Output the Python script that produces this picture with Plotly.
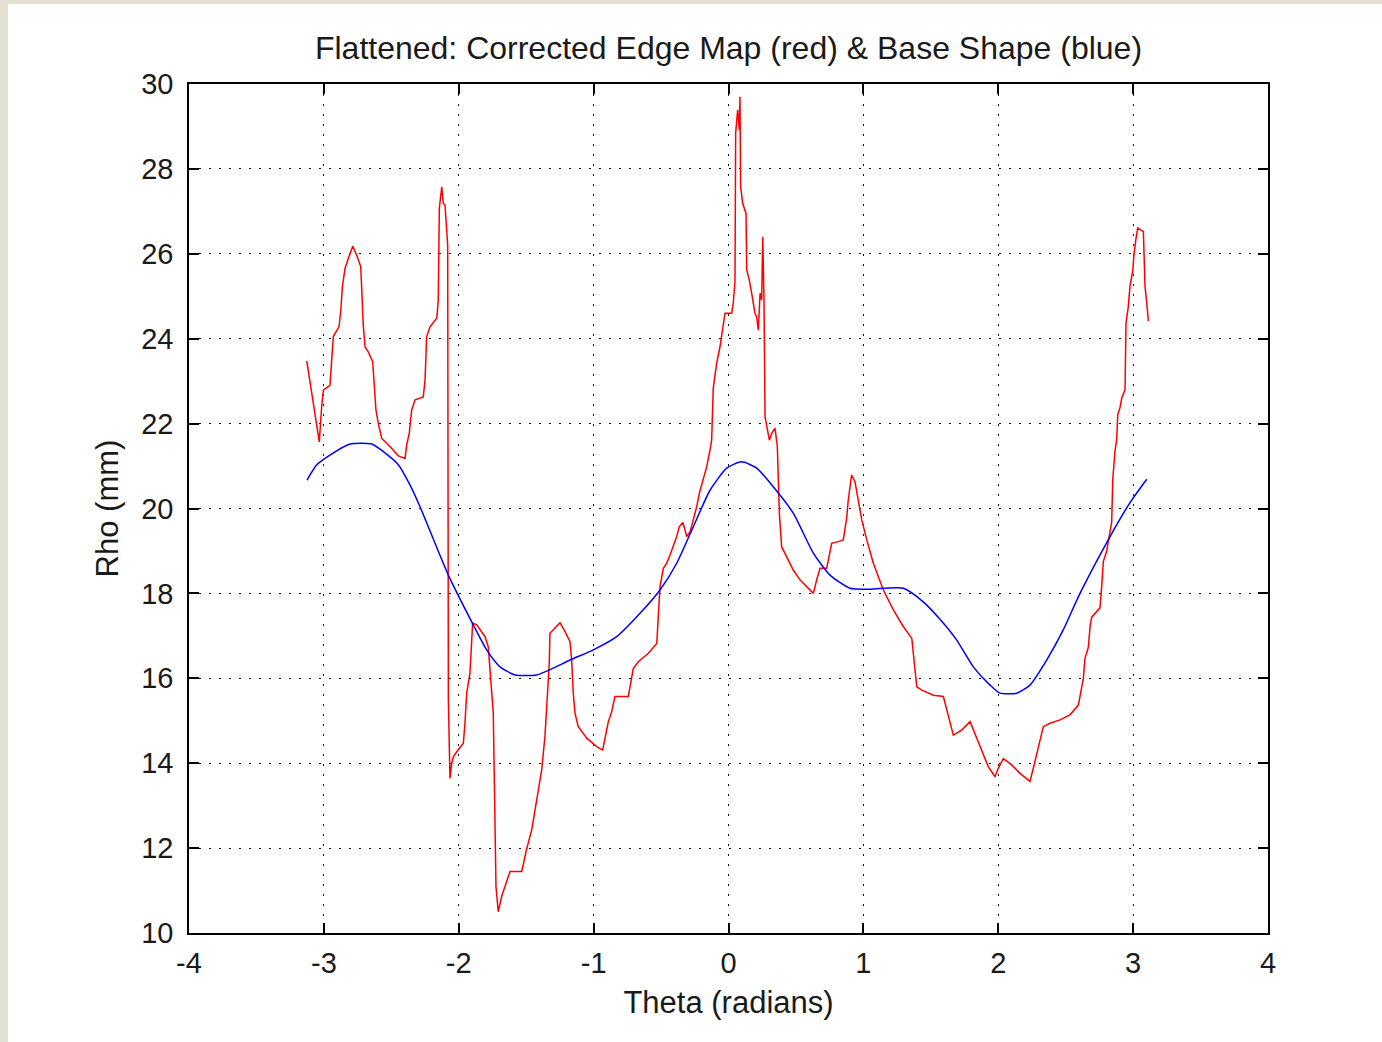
import plotly.graph_objects as go

# ---- data ----
red_theta = [-3.127, -3.034, -3.016, -3.004, -2.955, -2.938, -2.930, -2.888, -2.875, -2.863,
             -2.843, -2.819, -2.786, -2.757, -2.727, -2.720, -2.708, -2.695, -2.671, -2.638,
             -2.614, -2.596, -2.571, -2.510, -2.448, -2.398, -2.386, -2.367, -2.349, -2.324,
             -2.263, -2.250, -2.238, -2.213, -2.163, -2.152, -2.144, -2.126, -2.115, -2.102,
             -2.089, -2.082, -2.077, -2.065, -2.052, -2.040, -2.015, -1.966, -1.954, -1.941,
             -1.917, -1.904, -1.897, -1.867, -1.830, -1.805, -1.781, -1.768, -1.744, -1.724,
             -1.707, -1.682, -1.657, -1.620, -1.533, -1.498, -1.459, -1.435, -1.410, -1.385,
             -1.361, -1.348, -1.329, -1.324, -1.286, -1.249, -1.212, -1.175, -1.163, -1.151,
             -1.138, -1.114, -1.051, -0.977, -0.933, -0.916, -0.891, -0.866, -0.842, -0.743,
             -0.730, -0.706, -0.669, -0.594, -0.532, -0.520, -0.508, -0.483, -0.458, -0.434,
             -0.409, -0.384, -0.365, -0.339, -0.322, -0.310, -0.285, -0.261, -0.236, -0.216,
             -0.187, -0.162, -0.137, -0.125, -0.113, -0.100, -0.088, -0.063, -0.051, -0.026,
             0.024, 0.036, 0.048, 0.053, 0.068, 0.080, 0.085, 0.090, 0.105, 0.130,
             0.135, 0.154, 0.172, 0.196, 0.209, 0.221, 0.234, 0.246, 0.254, 0.263,
             0.271, 0.288, 0.303, 0.320, 0.345, 0.362, 0.377, 0.394, 0.443, 0.480,
             0.530, 0.580, 0.629, 0.654, 0.679, 0.728, 0.765, 0.814, 0.851, 0.876,
             0.888, 0.913, 0.938, 0.962, 0.988, 1.025, 1.074, 1.148, 1.222, 1.296,
             1.359, 1.396, 1.433, 1.519, 1.593, 1.667, 1.729, 1.791, 1.865, 1.926,
             1.976, 2.000, 2.038, 2.100, 2.161, 2.235, 2.260, 2.297, 2.334, 2.384,
             2.458, 2.532, 2.594, 2.631, 2.643, 2.668, 2.681, 2.693, 2.730, 2.754,
             2.767, 2.779, 2.804, 2.829, 2.841, 2.849, 2.866, 2.878, 2.886, 2.903,
             2.915, 2.940, 2.947, 2.964, 2.977, 2.997, 3.006, 3.021, 3.034, 3.076,
             3.088, 3.105, 3.113]
red_rho = [23.48, 21.57, 22.41, 22.79, 22.90, 23.73, 24.05, 24.28, 24.64, 25.22,
           25.66, 25.89, 26.18, 25.97, 25.70, 25.22, 24.32, 23.81, 23.69, 23.46,
           22.32, 22.00, 21.65, 21.46, 21.24, 21.18, 21.50, 21.77, 22.32, 22.56,
           22.63, 23.03, 24.05, 24.28, 24.48, 24.91, 27.07, 27.58, 27.19, 27.15,
           26.33, 26.20, 15.49, 13.64, 14.00, 14.15, 14.27, 14.47, 14.94, 15.65,
           16.12, 16.82, 17.30, 17.26, 17.10, 16.98, 16.74, 16.20, 15.18, 11.09,
           10.50, 10.86, 11.09, 11.45, 11.45, 11.96, 12.43, 12.90, 13.37, 13.84,
           14.63, 15.29, 16.35, 17.06, 17.18, 17.31, 17.10, 16.86, 16.43, 15.65,
           15.18, 14.86, 14.59, 14.39, 14.31, 14.55, 14.98, 15.21, 15.57, 15.57,
           15.80, 16.23, 16.39, 16.59, 16.82, 17.49, 18.16, 18.59, 18.71, 18.90,
           19.10, 19.34, 19.57, 19.67, 19.49, 19.34, 19.45, 19.73, 20.04, 20.36,
           20.67, 20.98, 21.38, 21.61, 22.83, 23.10, 23.42, 23.81, 24.05, 24.60,
           24.60, 24.87, 25.34, 28.84, 29.39, 28.92, 29.70, 27.58, 27.19, 26.95,
           25.62, 25.38, 25.07, 24.60, 24.52, 24.20, 25.07, 24.91, 26.40, 24.95,
           22.16, 21.85, 21.61, 21.77, 21.89, 21.46, 19.89, 19.10, 18.79, 18.55,
           18.32, 18.16, 18.00, 18.32, 18.59, 18.59, 19.18, 19.22, 19.26, 19.77,
           20.20, 20.79, 20.63, 20.20, 19.73, 19.26, 18.71, 18.08, 17.61, 17.22,
           16.94, 15.80, 15.72, 15.60, 15.57, 14.66, 14.78, 14.98, 14.39, 13.92,
           13.68, 13.88, 14.11, 13.96, 13.76, 13.57, 13.88, 14.39, 14.86, 14.94,
           15.02, 15.14, 15.37, 16.00, 16.47, 16.73, 17.23, 17.44, 17.57, 17.66,
           18.16, 18.75, 19.00, 19.51, 19.68, 20.69, 21.37, 21.62, 22.21, 22.38,
           22.59, 22.80, 24.36, 24.75, 25.25, 25.59, 25.97, 26.35, 26.61, 26.52,
           25.25, 24.70, 24.41]

blue_theta = [-3.125, -3.053, -2.955, -2.806, -2.645, -2.559, -2.448, -2.361, -2.287, -2.077,
              -1.904, -1.793, -1.694, -1.583, -1.422, -1.299, -1.175, -1.002, -0.829, -0.656,
              -0.508, -0.384, -0.261, -0.137, -0.013, 0.098, 0.209, 0.332, 0.480, 0.629,
              0.753, 0.901, 1.049, 1.296, 1.444, 1.568, 1.692, 1.815, 1.939, 2.013,
              2.137, 2.235, 2.359, 2.482, 2.606, 2.829, 2.977, 3.101]
blue_rho = [20.67, 21.03, 21.26, 21.52, 21.52, 21.34, 21.03, 20.55, 20.04, 18.43,
            17.33, 16.67, 16.27, 16.08, 16.08, 16.24, 16.43, 16.67, 16.98, 17.53,
            18.08, 18.71, 19.57, 20.43, 20.95, 21.10, 20.95, 20.51, 19.89, 18.95,
            18.43, 18.12, 18.10, 18.12, 17.80, 17.39, 16.90, 16.27, 15.84, 15.65,
            15.65, 15.84, 16.43, 17.14, 18.00, 19.34, 20.14, 20.69]

x_ticks = [-4, -3, -2, -1, 0, 1, 2, 3, 4]
y_ticks = [10, 12, 14, 16, 18, 20, 22, 24, 26, 28, 30]

title_text = "Flattened: Corrected Edge Map (red) & Base Shape (blue)"
x_title = "Theta (radians)"
y_title = "Rho (mm)"

FONT = "Liberation Sans, Arial, Helvetica, sans-serif"
TXT = "#1a1a1a"

fig = go.Figure()
fig.add_trace(go.Scatter(x=red_theta, y=red_rho, mode="lines",
                         line=dict(color="#ff0000", width=1.5), showlegend=False))
fig.add_trace(go.Scatter(x=blue_theta, y=blue_rho, mode="lines",
                         line=dict(color="#0000ff", width=1.5, shape="spline", smoothing=0.6),
                         showlegend=False))

W, H = 1382, 1042
L, R, T, B = 189, 114, 84, 109
pw, ph = W - L - R, H - T - B

axis_common = dict(
    showline=True, mirror="ticks", linecolor="black", linewidth=1.5,
    ticks="inside", ticklen=10, tickwidth=1.5, tickcolor="black",
    showgrid=True, gridcolor="#111111", gridwidth=1, griddash="1.5px,8.5px",
    zeroline=False, tickfont=dict(family=FONT, size=29, color=TXT),
)

fig.update_layout(
    width=W, height=H,
    margin=dict(l=L, r=R, t=T, b=B, pad=0),
    paper_bgcolor="#e4e0d2", plot_bgcolor="white",
    title=dict(text=title_text, x=0.5, xref="paper", xanchor="center",
               y=1 - 48 / H, yref="container", yanchor="middle",
               font=dict(family=FONT, size=32, color=TXT)),
    xaxis=dict(range=[-4, 4], tickmode="array", tickvals=x_ticks,
               ticktext=[str(v) for v in x_ticks], ticklabelstandoff=3,
               title=dict(text=x_title, standoff=14,
                          font=dict(family=FONT, size=31, color=TXT)),
               **axis_common),
    yaxis=dict(range=[10, 30], tickmode="array", tickvals=y_ticks,
               ticktext=[str(v) for v in y_ticks], ticklabelstandoff=8,
               title=dict(text=y_title, standoff=13,
                          font=dict(family=FONT, size=31, color=TXT)),
               **axis_common),
    shapes=[dict(type="rect", xref="paper", yref="paper", layer="below",
                 x0=(8 - L) / pw, x1=(W + 20 - L) / pw,
                 y0=-(B + 20) / ph, y1=(H - B - 4) / ph,
                 fillcolor="white", line=dict(width=0))],
)

fig.write_html("out.html")
